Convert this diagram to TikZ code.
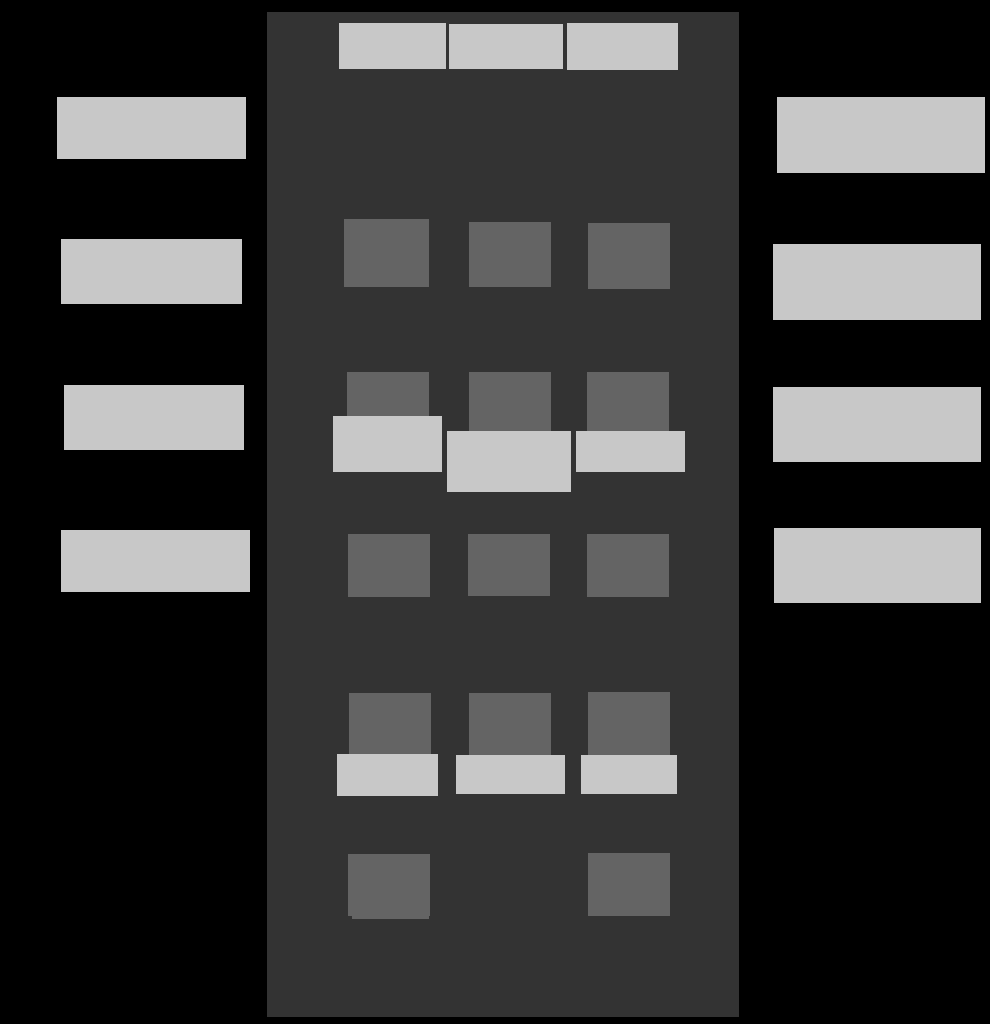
\documentclass[tikz,border=0pt]{standalone}
\usetikzlibrary{calc}

\begin{document}
\begin{tikzpicture}[x=0.025cm, y=-0.025cm]
    % Define colours
    \definecolor{backColour}{HTML}{000000}
    \definecolor{panelColour}{HTML}{333333}
    \definecolor{lightColour}{HTML}{C8C8C8}
    \definecolor{tileColour}{HTML}{646464}

    % Define styles
    \tikzset{
        panel/.style={fill=panelColour},
        lightbox/.style={fill=lightColour},
        tilebox/.style={fill=tileColour}
    }

    % Draw background and fix the page size
    \fill[backColour] (0,0) rectangle (990,1024);
    \useasboundingbox (0,0) rectangle (990,1024);

    % Draw the central panel
    \fill[panel] (267,12) rectangle (739,1017);

    % Draw the header boxes
    \fill[lightbox] (339,23) rectangle (446,69);
    \fill[lightbox] (449,24) rectangle (563,69);
    \fill[lightbox] (567,23) rectangle (678,70);

    % Draw the left column of boxes
    \fill[lightbox] (57,97) rectangle (246,159);
    \fill[lightbox] (61,239) rectangle (242,304);
    \fill[lightbox] (64,385) rectangle (244,450);
    \fill[lightbox] (61,530) rectangle (250,592);

    % Draw the right column of boxes
    \fill[lightbox] (777,97) rectangle (985,173);
    \fill[lightbox] (773,244) rectangle (981,320);
    \fill[lightbox] (773,387) rectangle (981,462);
    \fill[lightbox] (774,528) rectangle (981,603);

    % Row 1 tiles
    \fill[tilebox] (344,219) rectangle (429,287);
    \fill[tilebox] (469,222) rectangle (551,287);
    \fill[tilebox] (588,223) rectangle (670,289);

    % Row 2 tiles with their captions
    \fill[tilebox] (347,372) rectangle (429,420);
    \fill[tilebox] (469,372) rectangle (551,435);
    \fill[tilebox] (587,372) rectangle (669,435);
    \fill[lightbox] (333,416) rectangle (442,472);
    \fill[lightbox] (447,431) rectangle (571,492);
    \fill[lightbox] (576,431) rectangle (685,472);

    % Row 3 tiles
    \fill[tilebox] (348,534) rectangle (430,597);
    \fill[tilebox] (468,534) rectangle (550,596);
    \fill[tilebox] (587,534) rectangle (669,597);

    % Row 4 tiles with their captions
    \fill[tilebox] (349,693) rectangle (431,758);
    \fill[tilebox] (469,693) rectangle (551,758);
    \fill[tilebox] (588,692) rectangle (670,758);
    \fill[lightbox] (337,754) rectangle (438,796);
    \fill[lightbox] (456,755) rectangle (565,794);
    \fill[lightbox] (581,755) rectangle (677,794);

    % Row 5 tiles
    \fill[tilebox] (348,854) rectangle (430,916);
    \fill[tilebox] (352,914) rectangle (429,919);
    \fill[tilebox] (588,853) rectangle (670,916);

\end{tikzpicture}
\end{document}
